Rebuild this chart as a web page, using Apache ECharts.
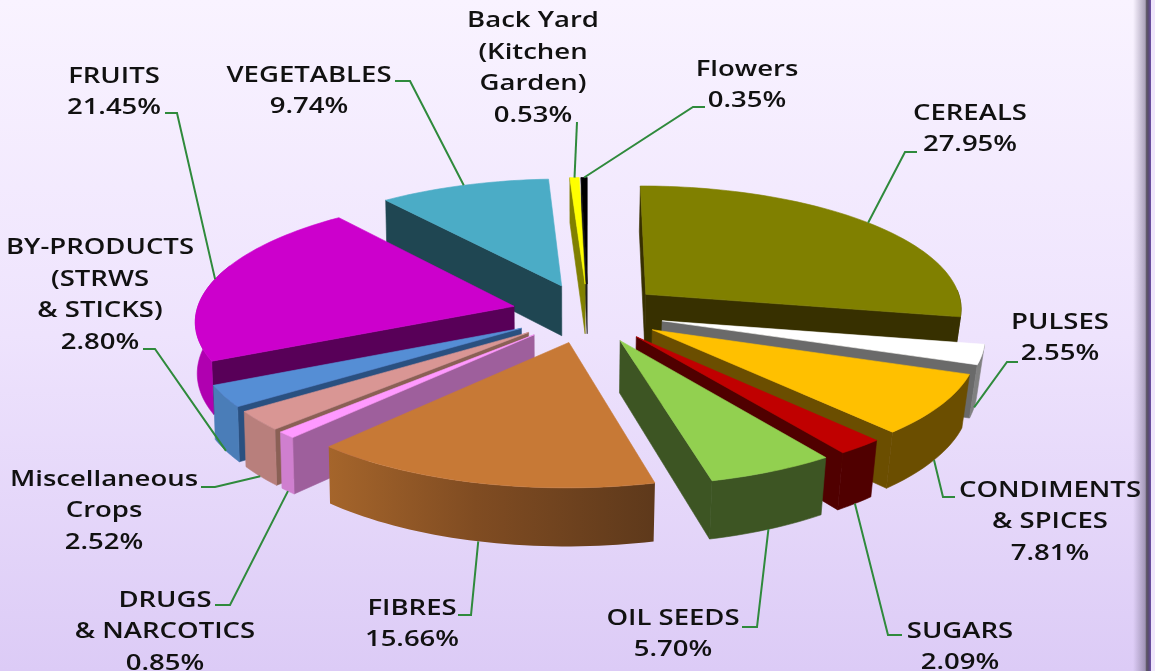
<!DOCTYPE html>
<html><head><meta charset="utf-8">
<style>html,body{margin:0;padding:0;background:#fff}#c{width:1155px;height:671px}</style>
<script src="https://cdn.jsdelivr.net/npm/echarts@6/dist/echarts.min.js"></script>
</head><body><div id="c"></div>
<script>
// ---- data ----
const categories = ['CEREALS','PULSES','CONDIMENTS\n& SPICES','SUGARS','OIL SEEDS','FIBRES','DRUGS\n& NARCOTICS',
  'Miscellaneous\nCrops','BY-PRODUCTS\n(STRWS\n& STICKS)','FRUITS','VEGETABLES','Back Yard\n(Kitchen\nGarden)','Flowers'];
const shares = [27.95,2.55,7.81,2.09,5.70,15.66,0.85,2.52,2.80,21.45,9.74,0.53,0.35];
// ---- colours: top face, radial wall, outer wall ----
const topColors = ['#808000','#FFFFFF','#FFC000','#C00000','#92D050','#C77936','#FF99FF','#D99694','#558ED5','#CC00CC','#4BACC6','#FFFF00','#000000'];
const wallColors = ['#373000','#6A6A6A','#6B4E00','#500000','#3D5523','#7A4A20','#9E5F9C','#8A6055','#2A5080','#580058','#1F4652','#808000','#202020'];
const rimColors = ['#373000','#808080','#6B4E00','#500000','#3D5523',null,'#CF7FCF','#B87F7C','#4A7DB8','#B000B0','#1F4652','#808000','#202020'];
// ---- label placement: centre of text block, then elbow points of the leader ----
const labelCenters = [[970,129],[1060,338],[1050,522],[960,647],[673,634],[412,624],[165,632],[104,511],[100,295],[114,92],[309,91],[533,68],[747,85]];
const leaderElbows = [[[905,152],[917,152]],[[1007,362],[1018,362]],[[943,497],[955,497]],[[888,635],[902,635]],[[757,627],[742,627]],
  [[471,615],[458,615]],[[230,605],[215,605]],[[215,487],[201,487]],[[155,349],[143,349]],[[177,113],[165,113]],[[410,81],[395,81]],[[577,122],[577,122]],[[693,107],[705,107]]];
// ---- pie projection ----
const CX=588, CY=313, RX=318, RY=123.5, PERSP=0.105, DEPTH=51, EXPLODE=0.24, TAPER_R=0.98, TAPER_L=0.995;
const RAD=Math.PI/180;
let cum=0;
const slices = shares.map((v,i)=>{const a=cum*3.6;cum+=v;const b=cum*3.6;const m=(a+b)/2;
  return {a,b,m,ex:EXPLODE*Math.sin(m*RAD),ey:EXPLODE*Math.cos(m*RAD)};});
function proj(sl,r,deg,bottom){
  const X=sl.ex+r*Math.sin(deg*RAD), Y=sl.ey+r*Math.cos(deg*RAD), s=1/(1+PERSP*Y);
  let x=CX+RX*X*s, y=CY-RY*Y*s;
  if(bottom){x=CX+(x-CX)*(x>CX?TAPER_R:TAPER_L); y+=DEPTH*s;}
  return [x,y];
}
function arc(sl,from,to,bottom){const n=Math.max(2,Math.ceil((to-from)/1.5));const p=[];
  for(let k=0;k<=n;k++)p.push(proj(sl,1,from+(to-from)*k/n,bottom));return p;}
const order = slices.map((s,i)=>i).sort((p,q)=>slices[q].ey-slices[p].ey);
const rank = []; order.forEach((idx,k)=>rank[idx]=k);
function poly(points,fill,z2,seam){
  return {type:'polygon',z2,shape:{points},silent:true,
    style:{fill,stroke:seam?fill:null,lineWidth:seam?0.6:0}};
}
function renderSlice(params,api){
  const i=params.dataIndex, sl=slices[i], ch=[], z=rank[i]*10+1;
  const apexT=proj(sl,0,0,false), apexB=proj(sl,0,0,true);
  const sa=Math.sin(sl.a*RAD), sb=Math.sin(sl.b*RAD);
  if(sa<=1e-6) ch.push(poly([apexT,proj(sl,1,sl.a,false),proj(sl,1,sl.a,true),apexB],wallColors[i],z,true));
  if(sb>=-1e-6 && sl.b<359.9) ch.push(poly([apexT,proj(sl,1,sl.b,false),proj(sl,1,sl.b,true),apexB],wallColors[i],z+1,true));
  const f=Math.max(sl.a,88), t=Math.min(sl.b,290);
  if(t>f){
    const top=arc(sl,f,t,false), bot=arc(sl,f,t,true).reverse();
    const rim=rimColors[i]||{type:'linear',x:1,y:0,x2:0,y2:0,colorStops:[{offset:0,color:'#5E391B'},{offset:0.55,color:'#804C22'},{offset:1,color:'#A5652B'}]};
    ch.push(poly(top.concat(bot),rim,z+2,!!rimColors[i]));
  }
  ch.push(poly([apexT].concat(arc(sl,sl.a,sl.b,false)),topColors[i],z+3,true));
  return {type:'group',children:ch};
}
function renderLabel(params,api){
  const i=params.dataIndex, sl=slices[i], front=Math.cos(sl.m*RAD)<0.05;
  const start=proj(sl,1,sl.m,front);
  const pct=shares[i].toFixed(2)+'%';
  return {type:'group',children:[
    {type:'polyline',z2:500,silent:true,shape:{points:[start].concat(leaderElbows[i])},
      style:{fill:null,stroke:'#2F8A3C',lineWidth:2}},
    {type:'text',z2:501,silent:true,x:labelCenters[i][0],y:labelCenters[i][1],scaleX:1.25,
      style:{text:categories[i]+'\n'+pct,fill:'#111',align:'center',verticalAlign:'middle',
        font:'600 22px "Open Sans", sans-serif',lineHeight:31.5}}
  ]};
}
const chart=echarts.init(document.getElementById('c'),null,{renderer:'canvas'});
chart.setOption({
  animation:false,
  backgroundColor:{type:'linear',x:0,y:0,x2:0,y2:1,colorStops:[{offset:0,color:'#F9F3FF'},{offset:0.5,color:'#EEE3FD'},{offset:1,color:'#DCCBF6'}]},
  graphic:{elements:[
    {type:'rect',silent:true,z:0,shape:{x:1133,y:0,width:22,height:671},
     style:{fill:{type:'linear',x:0,y:0,x2:1,y2:0,colorStops:[
       {offset:0,color:'rgba(120,110,140,0)'},{offset:0.55,color:'rgba(110,100,130,0.55)'},{offset:0.62,color:'#5A5560'},
       {offset:0.72,color:'#5A4A78'},{offset:0.8,color:'#6A4FA0'},{offset:0.83,color:'#EFE6FB'},{offset:1,color:'#EFE6FB'}]}}}
  ]},
  series:[
    {type:'custom',coordinateSystem:'none',silent:true,renderItem:renderSlice,data:shares.map(v=>[v]),clip:false,z:2},
    {type:'custom',coordinateSystem:'none',silent:true,renderItem:renderLabel,data:shares.map(v=>[v]),clip:false,z:3}
  ]
});
</script></body></html>
